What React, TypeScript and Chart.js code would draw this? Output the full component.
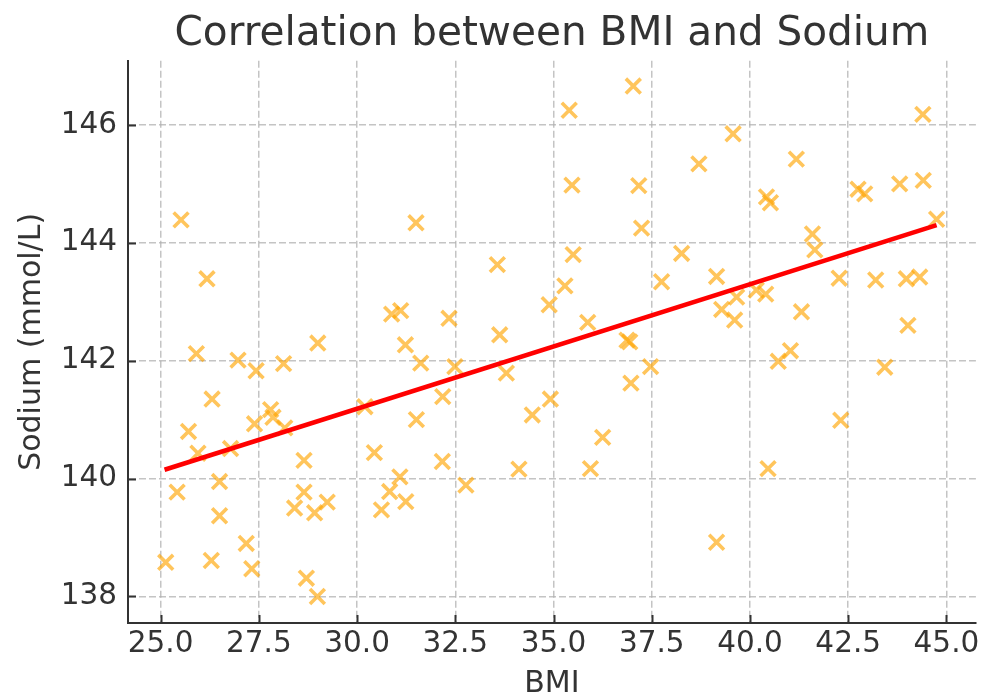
import React, { useEffect, useRef } from "react";
import { Chart, registerables } from "chart.js";

Chart.register(...registerables);

const bmi: number[] = [
  25.52, 26.18, 29.0, 25.91, 26.97, 27.43, 28.13, 26.31, 27.8, 27.86,
  28.16, 27.39, 25.71, 25.95, 26.78, 28.65, 25.42, 26.5, 28.65, 28.41,
  28.92, 29.24, 26.5, 27.18, 25.13, 26.29, 27.32, 28.71, 28.99,
  31.5, 33.57, 30.88, 31.11, 32.34, 33.63, 31.23, 34.89, 31.62, 32.49,
  33.8, 32.18, 30.2, 31.51, 34.46, 34.92, 30.44, 32.17, 34.12, 31.09,
  32.77, 30.83, 31.24, 30.62,
  35.4, 37.03, 35.47, 37.17, 37.24, 38.7, 39.57, 35.5, 35.29, 35.87,
  36.87, 36.94, 38.26, 37.75, 39.15, 39.28, 39.66, 39.61, 36.97, 37.47,
  36.25, 35.94, 39.15,
  44.4, 41.18, 40.42, 40.52, 42.75, 42.92, 43.81, 44.41, 44.75, 41.59,
  41.65, 42.27, 43.2, 43.98, 44.32, 40.16, 40.4, 41.31, 40.72, 41.03,
  43.43, 44.02, 42.31, 40.46,
];

const sodium: number[] = [
  144.39, 143.39, 142.3, 142.12, 142.01, 141.83, 141.95, 141.35, 141.17, 141.04,
  140.86, 140.93, 140.8, 140.43, 140.51, 140.31, 139.77, 139.95, 139.77, 139.5,
  139.42, 139.6, 139.37, 138.9, 138.58, 138.61, 138.47, 138.31, 138.0,
  144.34, 143.63, 142.79, 142.85, 142.72, 142.44, 142.27, 142.95, 141.96, 141.9,
  141.79, 141.39, 141.22, 141.0, 141.08, 141.35, 140.44, 140.29, 140.16, 140.03,
  139.89, 139.78, 139.61, 139.47,
  146.25, 146.66, 144.98, 144.97, 144.25, 145.34, 145.85, 143.8, 143.27, 142.65,
  142.35, 142.32, 143.82, 143.34, 143.43, 142.87, 143.08, 142.69, 141.62, 141.9,
  140.7, 140.17, 138.92,
  146.18, 145.42, 144.78, 144.68, 144.91, 144.83, 145.0, 145.06, 144.4, 144.15,
  143.88, 143.4, 143.37, 143.39, 143.42, 143.2, 143.13, 142.83, 141.99, 142.17,
  141.89, 142.6, 140.99, 140.17,
];

const trendX: number[] = [25.1, 44.75];
const trendY: number[] = [140.15, 144.3];

const xTickValues: number[] = [25, 27.5, 30, 32.5, 35, 37.5, 40, 42.5, 45];
const xTickLabels: string[] = ["25.0", "27.5", "30.0", "32.5", "35.0", "37.5", "40.0", "42.5", "45.0"];
const yTickValues: number[] = [138, 140, 142, 144, 146];
const yTickLabels: string[] = ["138", "140", "142", "144", "146"];

const FONT = "'DejaVu Sans', sans-serif";
const TEXT = "#333333";

const inwardTicks = {
  id: "inwardTicks",
  afterDatasetsDraw(chart: any) {
    const { ctx, chartArea, scales } = chart;
    ctx.save();
    ctx.strokeStyle = TEXT;
    ctx.lineWidth = 2;
    ctx.beginPath();
    scales.x.ticks.forEach((t: any) => {
      const px = Math.round(scales.x.getPixelForValue(t.value)) + 0.5;
      ctx.moveTo(px, chartArea.bottom);
      ctx.lineTo(px, chartArea.bottom - 8);
    });
    scales.y.ticks.forEach((t: any) => {
      const py = Math.round(scales.y.getPixelForValue(t.value)) + 0.5;
      ctx.moveTo(chartArea.left, py);
      ctx.lineTo(chartArea.left + 8, py);
    });
    ctx.stroke();
    ctx.restore();
  },
};

export default function App() {
  const ref = useRef<HTMLCanvasElement | null>(null);

  useEffect(() => {
    if (!ref.current) return;
    const points = bmi.map((x, i) => ({ x, y: sodium[i] }));
    const trend = trendX.map((x, i) => ({ x, y: trendY[i] }));
    const gridCommon = {
      color: "rgba(176,176,176,0.75)",
      lineWidth: 1.5,
      drawTicks: false,
    };
    const chart = new Chart(ref.current, {
      type: "scatter",
      data: {
        datasets: [
          {
            type: "line",
            label: "Regression",
            data: trend,
            borderColor: "#ff0000",
            borderWidth: 4.5,
            pointRadius: 0,
            fill: false,
            order: 0,
          } as any,
          {
            label: "Data",
            data: points,
            pointStyle: "crossRot",
            pointRadius: 10.5,
            pointHoverRadius: 10.5,
            borderWidth: 3.6,
            pointBorderWidth: 3.6,
            borderColor: "rgba(255,165,0,0.64)",
            pointBorderColor: "rgba(255,165,0,0.64)",
            backgroundColor: "rgba(255,165,0,0.64)",
            order: 1,
          } as any,
        ],
      },
      options: {
        responsive: false,
        animation: false,
        events: [],
        layout: { padding: { left: 0, right: 14, top: 0, bottom: 0 } },
        plugins: {
          legend: { display: false },
          tooltip: { enabled: false },
          title: {
            display: true,
            text: "Correlation between BMI and Sodium",
            fullSize: false,
            color: TEXT,
            font: { family: FONT, size: 40.6, weight: "normal", lineHeight: 1.2 },
            padding: { top: 10, bottom: 2 },
          },
        },
        scales: {
          x: {
            type: "linear",
            min: 24.17,
            max: 45.75,
            afterBuildTicks: (scale: any) => {
              scale.ticks = xTickValues.map((v) => ({ value: v }));
            },
            afterFit: (scale: any) => {
              scale.height = 76;
            },
            ticks: {
              color: TEXT,
              padding: 4,
              maxRotation: 0,
              autoSkip: false,
              font: { family: FONT, size: 29.5 },
              callback: (_v: any, i: number) => xTickLabels[i],
            },
            grid: gridCommon,
            border: { display: true, color: TEXT, width: 2, dash: [7, 3] },
            title: {
              display: true,
              text: "BMI",
              color: TEXT,
              font: { family: FONT, size: 30, lineHeight: 1 },
              padding: { top: 0, bottom: 0 },
            },
          },
          y: {
            type: "linear",
            min: 137.55,
            max: 147.09,
            afterBuildTicks: (scale: any) => {
              scale.ticks = yTickValues.map((v) => ({ value: v }));
            },
            afterFit: (scale: any) => {
              scale.width = 128;
            },
            ticks: {
              color: TEXT,
              padding: 11,
              autoSkip: false,
              font: { family: FONT, size: 29.5 },
              callback: (_v: any, i: number) => yTickLabels[i],
            },
            grid: gridCommon,
            border: { display: true, color: TEXT, width: 2, dash: [7, 3] },
            title: {
              display: true,
              text: "Sodium (mmol/L)",
              color: TEXT,
              font: { family: FONT, size: 30, lineHeight: 1 },
              padding: { top: 17, bottom: 0 },
            },
          },
        },
      },
      plugins: [inwardTicks],
    } as any);
    return () => chart.destroy();
  }, []);

  return (
    <div style={{ position: "absolute", left: 0, top: 0, width: 990, height: 699, background: "#ffffff" }}>
      <canvas ref={ref} width={990} height={699} />
    </div>
  );
}
